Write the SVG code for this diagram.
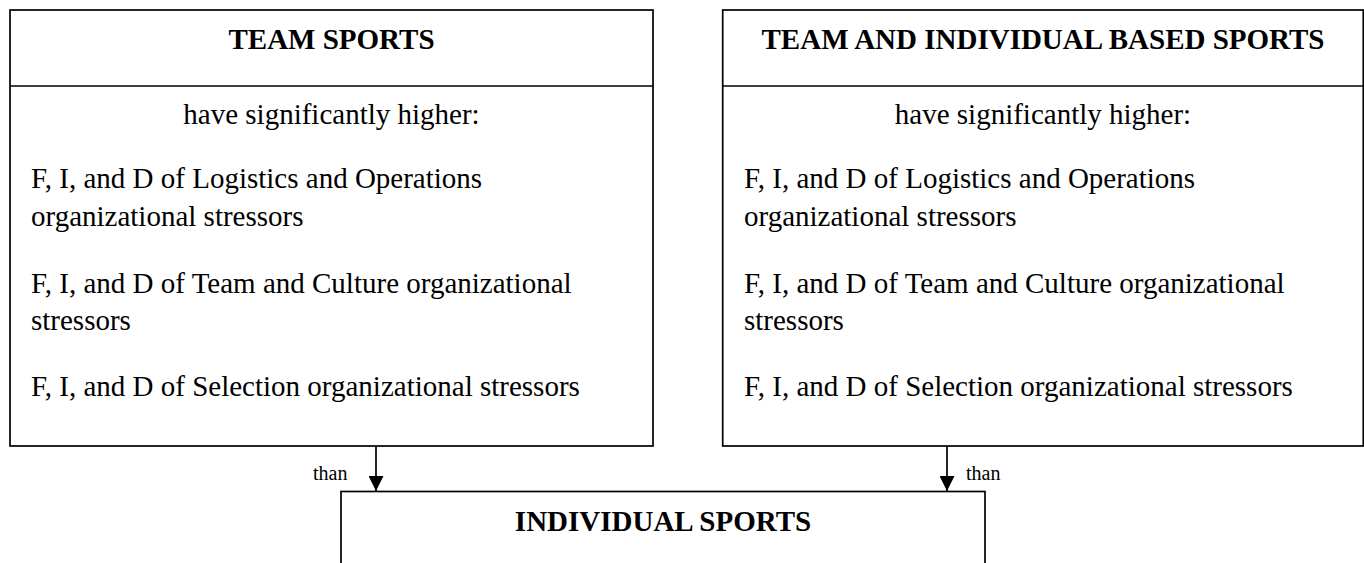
<svg xmlns="http://www.w3.org/2000/svg" width="1364" height="563" viewBox="0 0 1364 563">
<style>
.box{fill:#fff;stroke:#000;stroke-width:1.7}
.div{stroke:#000;stroke-width:1.7}
.hd{font-family:"Liberation Serif","Times New Roman",serif;font-size:29px;font-weight:bold;fill:#000;text-anchor:middle}
.tx{font-family:"Liberation Serif","Times New Roman",serif;font-size:29px;fill:#000}
.c{text-anchor:middle}
.lb{font-family:"Liberation Serif","Times New Roman",serif;font-size:20px;fill:#000}
.con{stroke:#000;stroke-width:1.7;fill:none}
</style>
<defs>
<marker id="ah" markerWidth="15" markerHeight="15" refX="15" refY="7.5" orient="auto" markerUnits="userSpaceOnUse" viewBox="0 0 15 15">
<path d="M0,0 L15,7.5 L0,15 Z" fill="#000"/>
</marker>
</defs>
<rect width="1364" height="563" fill="#fff"/>
<g id="team-sports">
<rect class="box" x="10" y="10" width="643" height="436"/>
<line class="div" x1="10" y1="86" x2="653" y2="86"/>
<text class="hd" x="331.5" y="49">TEAM SPORTS</text>
<text class="tx c" x="331.5" y="124">have significantly higher:</text>
<text class="tx" x="31" y="188">F, I, and D of Logistics and Operations</text>
<text class="tx" x="31" y="226">organizational stressors</text>
<text class="tx" x="31" y="293">F, I, and D of Team and Culture organizational</text>
<text class="tx" x="31" y="330">stressors</text>
<text class="tx" x="31" y="396">F, I, and D of Selection organizational stressors</text>
</g>
<g id="team-individual-sports">
<rect class="box" x="722.7" y="10" width="640.6" height="436"/>
<line class="div" x1="722.7" y1="86" x2="1363.3" y2="86"/>
<text class="hd" x="1043" y="49">TEAM AND INDIVIDUAL BASED SPORTS</text>
<text class="tx c" x="1043" y="124">have significantly higher:</text>
<text class="tx" x="744" y="188">F, I, and D of Logistics and Operations</text>
<text class="tx" x="744" y="226">organizational stressors</text>
<text class="tx" x="744" y="293">F, I, and D of Team and Culture organizational</text>
<text class="tx" x="744" y="330">stressors</text>
<text class="tx" x="744" y="396">F, I, and D of Selection organizational stressors</text>
</g>
<g id="individual-sports">
<rect class="box" x="341" y="491.5" width="644" height="120"/>
<text class="hd" x="663" y="531">INDIVIDUAL SPORTS</text>
</g>
<g id="connectors">
<line class="con" x1="376" y1="446" x2="376" y2="491" marker-end="url(#ah)"/>
<line class="con" x1="947" y1="446" x2="947" y2="491" marker-end="url(#ah)"/>
<text class="lb" x="313" y="480">than</text>
<text class="lb" x="966" y="480">than</text>
</g>
</svg>
